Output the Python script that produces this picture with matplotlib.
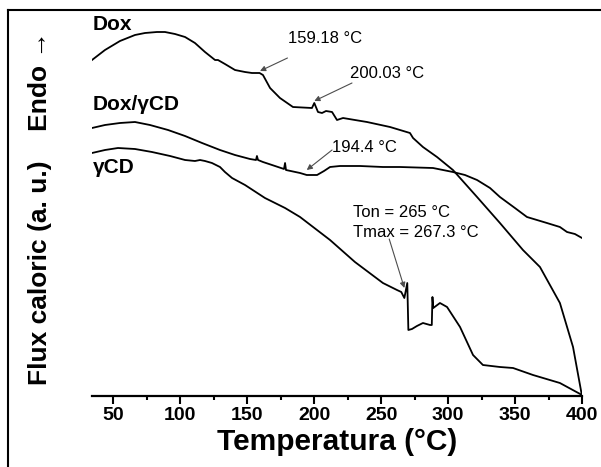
import matplotlib
matplotlib.use('Agg')
import matplotlib.pyplot as plt
from matplotlib.lines import Line2D

plt.rcParams['font.family'] = ['Liberation Sans', 'DejaVu Sans']

# DSC curves (temperature in degC, heat flow in arbitrary units, curves offset)
dox_t = [34.0, 43.7, 54.9, 66.1, 73.6, 82.5, 88.5, 96.0, 103.5, 110.9, 118.4, 125.9, 128.1,
         133.3, 140.8, 148.3, 153.5, 159.18, 161.7, 167.0, 174.4, 184.1, 198.3,
         200.03, 202.8, 205.8, 208.8, 213.3, 217.0, 221.5, 230.4, 239.4, 256.6,
         271.5, 273.8, 281.2, 291.7, 303.6, 321.6, 338.7, 355.9, 368.6, 383.5,
         393.3, 400.0]
dox_flux = [336, 346, 355, 361, 363, 364, 364, 362, 359, 353, 344, 336, 336,
            332, 326, 324, 323, 323, 321, 308, 298, 289, 288,
            293, 284, 283, 285, 284, 276, 278, 276, 274, 269,
            263, 258, 249, 239, 226, 199, 173, 146, 129, 93,
            49, 0]

doxcd_t = [34.0, 43.7, 54.9, 66.1, 77.3, 90.8, 103.5, 116.2, 129.6, 140.8,
           152.0, 156.5, 157.2, 158.0, 161.7, 170.7, 177.4, 178.2, 178.9, 189.4,
           194.4, 202.1, 207.3, 211.8, 219.2, 234.2, 251.3, 264.0, 288.7, 303.6,
           312.6, 321.6, 331.3, 338.7, 349.9, 358.9, 373.8, 383.5, 388.8, 394.7,
           400.0]
doxcd_flux = [268, 271, 273, 274, 271, 266, 260, 253, 246, 241,
              237, 236, 240, 236, 234, 230, 227, 233, 226, 223,
              221, 221, 225, 229, 230, 230, 229, 229, 228, 224,
              221, 216, 208, 199, 188, 179, 173, 169, 164, 162,
              158]

gcd_t = [34.0, 43.7, 53.4, 66.1, 78.8, 92.3, 103.5, 110.9, 114.7, 118.4,
         123.6, 129.6, 133.3, 138.6, 148.3, 163.2, 178.2, 189.4, 211.8, 230.4,
         251.3, 261.8, 265.0, 267.3, 269.5, 270.3, 273.0, 276.7, 281.2, 286.5,
         287.8, 288.3, 288.9, 293.9, 299.2, 308.9, 318.6, 326.0, 338.7, 348.5,
         363.4, 383.5, 400.0]
gcd_flux = [243, 246, 248, 247, 244, 240, 236, 235, 236, 235,
            233, 229, 224, 218, 211, 198, 188, 179, 156, 134,
            113, 106, 104, 98, 113, 66, 67, 70, 73, 71,
            71, 99, 88, 93, 89, 69, 41, 31, 29, 28,
            21, 13, 1]

x_ticks = [50, 100, 150, 200, 250, 300, 350, 400]

fig = plt.figure(figsize=(6.01, 4.67), dpi=100)
ax = fig.add_axes([92 / 601, 1 - 396 / 467, 490 / 601, 386 / 467])

for t, f in [(dox_t, dox_flux), (doxcd_t, doxcd_flux), (gcd_t, gcd_flux)]:
    ax.plot(t, f, color='black', lw=1.3)

ax.set_xlim(34, 400)
ax.set_ylim(0, 386)
for s in ['left', 'right', 'top']:
    ax.spines[s].set_visible(False)
ax.spines['bottom'].set_linewidth(1.6)
ax.set_yticks([])
ax.set_xticks(x_ticks)
ax.set_xticks([75, 125, 175, 225, 275, 325, 375], minor=True)
ax.tick_params(axis='x', which='major', length=6, width=1.5, pad=2, labelsize=14)
ax.tick_params(axis='x', which='minor', length=3, width=1.5)
for lab in ax.get_xticklabels():
    lab.set_fontweight('bold')
ax.set_xlabel('Temperatura (\u00b0C)', fontsize=21.5, fontweight='bold', labelpad=3)

fig.text(40 / 601, 1 - 208 / 467, 'Flux caloric (a. u.)    Endo \u2192',
         rotation=90, ha='center', va='center', fontsize=19, fontweight='bold')

# curve names
ax.text(34.5, 366, 'Dox', fontsize=15, fontweight='bold', va='baseline')
ax.text(34.5, 286, 'Dox/\u03b3CD', fontsize=15, fontweight='bold', va='baseline')
ax.text(34.5, 223, '\u03b3CD', fontsize=15, fontweight='bold', va='baseline')

# thermal events
ax.text(180.4, 353, '159.18 \u00b0C', fontsize=12, va='baseline')
ax.text(226.7, 318, '200.03 \u00b0C', fontsize=12, va='baseline')
ax.text(213.3, 244, '194.4 \u00b0C', fontsize=12, va='baseline')
ax.text(229.0, 179, 'Ton = 265 \u00b0C', fontsize=12, va='baseline')
ax.text(229.0, 159, 'Tmax = 267.3 \u00b0C', fontsize=12, va='baseline')

arrow = dict(arrowstyle='-|>', color='0.3', lw=0.8, mutation_scale=8,
             shrinkA=0, shrinkB=0)
ax.annotate('', xy=(159.5, 325), xytext=(180.0, 338), arrowprops=arrow)
ax.annotate('', xy=(200.03, 295), xytext=(228.2, 313), arrowprops=arrow)
ax.annotate('', xy=(194.4, 226), xytext=(213.3, 246), arrowprops=arrow)
ax.annotate('', xy=(267.3, 108), xytext=(256.0, 157), arrowprops=arrow)

# frame around the figure
fig.add_artist(Line2D([7.5 / 601, 7.5 / 601], [0, 1 - 10 / 467],
                      transform=fig.transFigure, color='black', lw=1.5))
fig.add_artist(Line2D([7.5 / 601, 1], [1 - 10 / 467, 1 - 10 / 467],
                      transform=fig.transFigure, color='black', lw=1.5))

fig.savefig('out.png', dpi=100)
